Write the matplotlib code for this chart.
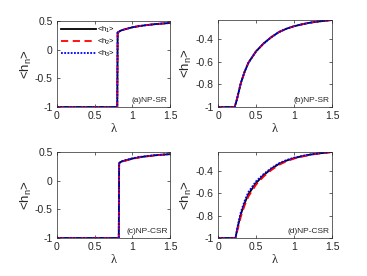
import matplotlib
matplotlib.use("Agg")
import matplotlib.pyplot as plt

plt.rcParams['font.family'] = ['Liberation Sans', 'DejaVu Sans']
plt.rcParams['mathtext.fontset'] = 'custom'
plt.rcParams['mathtext.rm'] = 'Liberation Sans'
plt.rcParams['mathtext.it'] = 'Liberation Sans:italic'
plt.rcParams['mathtext.default'] = 'regular'

# ---- data ----
lam_a = [0, 0.80, 0.805, 0.85, 0.9, 1.0, 1.1, 1.2, 1.3, 1.4, 1.5]
h1_a = [-1, -1, 0.30, 0.335, 0.355, 0.39, 0.413, 0.43, 0.445, 0.456, 0.465]
h2_a = [-1, -1, 0.30, 0.335, 0.355, 0.39, 0.413, 0.43, 0.445, 0.456, 0.465]
h3_a = [-1, -1, 0.30, 0.335, 0.355, 0.39, 0.413, 0.43, 0.445, 0.456, 0.465]

lam_b = [0, 0.22, 0.25, 0.3, 0.35, 0.4, 0.5, 0.6, 0.7, 0.8, 0.9, 1.0, 1.1, 1.2, 1.3, 1.4, 1.5]
h1_b = [-1, -1, -0.93, -0.79, -0.69, -0.61, -0.51, -0.44, -0.385, -0.34, -0.31, -0.288,
        -0.272, -0.258, -0.248, -0.24, -0.233]
h2_b = list(h1_b)
h3_b = list(h1_b)

lam_c = [0, 0.82, 0.825, 0.85, 0.9, 1.0, 1.1, 1.2, 1.3, 1.4, 1.5]
h1_c = [-1, -1, 0.30, 0.33, 0.35, 0.385, 0.41, 0.427, 0.442, 0.453, 0.462]
h2_c = [-1, -1, 0.29, 0.325, 0.345, 0.38, 0.407, 0.425, 0.44, 0.452, 0.461]
h3_c = [-1, -1, 0.31, 0.335, 0.355, 0.39, 0.414, 0.43, 0.445, 0.455, 0.463]

lam_d = [0, 0.23, 0.26, 0.3, 0.35, 0.4, 0.5, 0.6, 0.7, 0.8, 0.9, 1.0, 1.1, 1.2, 1.3, 1.4, 1.5]
h1_d = [-1, -1, -0.90, -0.79, -0.69, -0.61, -0.51, -0.44, -0.385, -0.34, -0.31, -0.288,
        -0.272, -0.258, -0.248, -0.24, -0.233]
h2_d = [-1, -1, -0.92, -0.81, -0.71, -0.63, -0.525, -0.452, -0.395, -0.348, -0.316, -0.292,
        -0.275, -0.26, -0.249, -0.241, -0.233]
h3_d = [-1, -1, -0.89, -0.77, -0.67, -0.59, -0.495, -0.43, -0.377, -0.335, -0.305, -0.284,
        -0.269, -0.256, -0.247, -0.239, -0.232]

panel_labels = ['(a)NP-SR', '(b)NP-SR', '(c)NP-CSR', '(d)NP-CSR']
series_labels = [r'<h$_1$>', r'<h$_2$>', r'<h$_3$>']

fig = plt.figure(figsize=(3.67, 2.76), dpi=100)
rects = [
    [57/367, 1-107/276, 113/367, 86/276],
    [218/367, 1-107/276, 114/367, 87/276],
    [57/367, 1-238/276, 113/367, 86/276],
    [218/367, 1-238/276, 114/367, 86/276],
]
datasets = [
    (lam_a, h1_a, h2_a, h3_a),
    (lam_b, h1_b, h2_b, h3_b),
    (lam_c, h1_c, h2_c, h3_c),
    (lam_d, h1_d, h2_d, h3_d),
]
axcol = '#262626'
for i, (rect, (lam, h1, h2, h3)) in enumerate(zip(rects, datasets)):
    ax = fig.add_axes(rect)
    ax.plot(lam, h1, color='black', lw=1.3, ls='-', label=series_labels[0])
    ax.plot(lam, h2, color='red', lw=1.3, ls=(0, (4, 2.5)), label=series_labels[1])
    ax.plot(lam, h3, color='blue', lw=1.3, ls=(0, (1, 0.8)), label=series_labels[2])
    ax.set_xlim(0, 1.5)
    ax.set_xticks([0, 0.5, 1, 1.5])
    ax.set_xticklabels(['0', '0.5', '1', '1.5'])
    if i in (0, 2):
        ax.set_ylim(-1, 0.5)
        ax.set_yticks([-1, -0.5, 0, 0.5])
        ax.set_yticklabels(['-1', '-0.5', '0', '0.5'])
    else:
        ax.set_ylim(-1, -0.233)
        ax.set_yticks([-1, -0.8, -0.6, -0.4])
        ax.set_yticklabels(['-1', '-0.8', '-0.6', '-0.4'])
    ax.tick_params(direction='in', length=2.5, width=0.5, labelsize=7.5,
                   top=True, right=True, colors=axcol, pad=3)
    for s in ax.spines.values():
        s.set_linewidth(0.5)
        s.set_color(axcol)
    ax.set_xlabel('λ', fontsize=9, color=axcol, labelpad=1,
                  family=['Liberation Serif', 'DejaVu Serif'])
    ax.set_ylabel(r'<h$_n$>', fontsize=9.5, color=axcol, labelpad=1)
    ax.text(0.98, 0.04, panel_labels[i], transform=ax.transAxes, ha='right', va='bottom',
            fontsize=6, color=axcol)
    if i == 0:
        ax.legend(loc='upper left', fontsize=5.5, frameon=False, handlelength=4.6,
                  handletextpad=0.2, labelspacing=0.25, borderaxespad=0.2,
                  borderpad=0.3)

fig.savefig('out.png', dpi=100)
